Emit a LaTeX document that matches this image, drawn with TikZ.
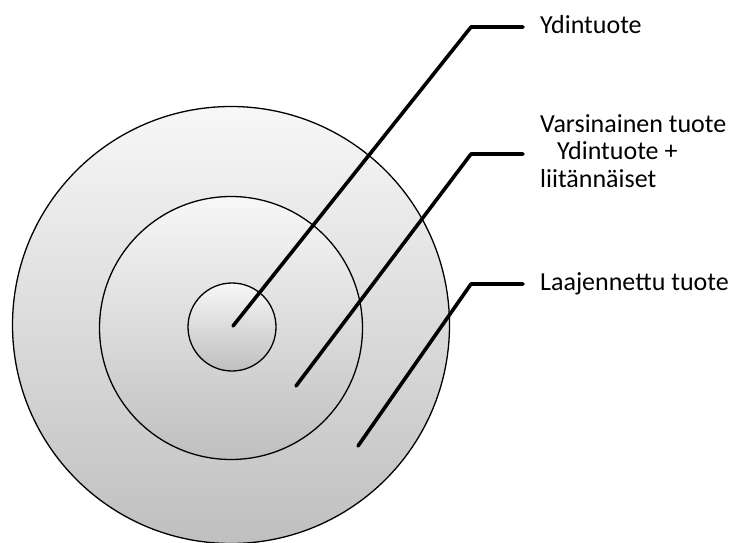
\documentclass[tikz,border=0pt]{standalone}
\usepackage{fontspec}
\setmainfont{Carlito}
\usetikzlibrary{positioning}

\begin{document}
\begin{tikzpicture}[x=1pt, y=-1pt,
    ring/.style={circle, draw=black, line width=1.3pt, inner sep=0pt,
      top color=white!97!black, bottom color=black!25},
    pointer/.style={line width=3.6pt, line cap=round, line join=round},
    label/.style={anchor=west, inner sep=0pt, align=left,
      font=\fontsize{26}{27.5}\selectfont},
  ]
  \useasboundingbox (0,0) rectangle (736,543);

  % Rings
  \node[ring, minimum size=437pt] (outer) at (231,325) {};
  \node[ring, minimum size=263pt] (middle) at (231,328) {};
  \node[ring, minimum size=88pt] (core) at (232,327) {};

  % Labels
  \node[label] (coreLab) at (540,25) {Ydintuote};
  \node[label] (middleLab) at (540,151)
    {Varsinainen tuote\\\hspace*{17pt}Ydintuote +\\liitännäiset};
  \node[label] (outerLab) at (540,284) {Laajennettu tuote};

  % Pointer tips and elbows
  \coordinate (coreTip) at (233,326);
  \coordinate (middleTip) at (296,386);
  \coordinate (outerTip) at (358,446);
  \coordinate (coreBend) at (471,27);
  \coordinate (middleBend) at (471,154);
  \coordinate (outerBend) at (471,284);

  % Pointers
  \draw[pointer] (coreTip) -- (coreBend) -- ([xshift=-17pt]coreLab.west |- coreBend);
  \draw[pointer] (middleTip) -- (middleBend) -- ([xshift=-17pt]middleLab.west |- middleBend);
  \draw[pointer] (outerTip) -- (outerBend) -- ([xshift=-17pt]outerLab.west |- outerBend);

\end{tikzpicture}
\end{document}
